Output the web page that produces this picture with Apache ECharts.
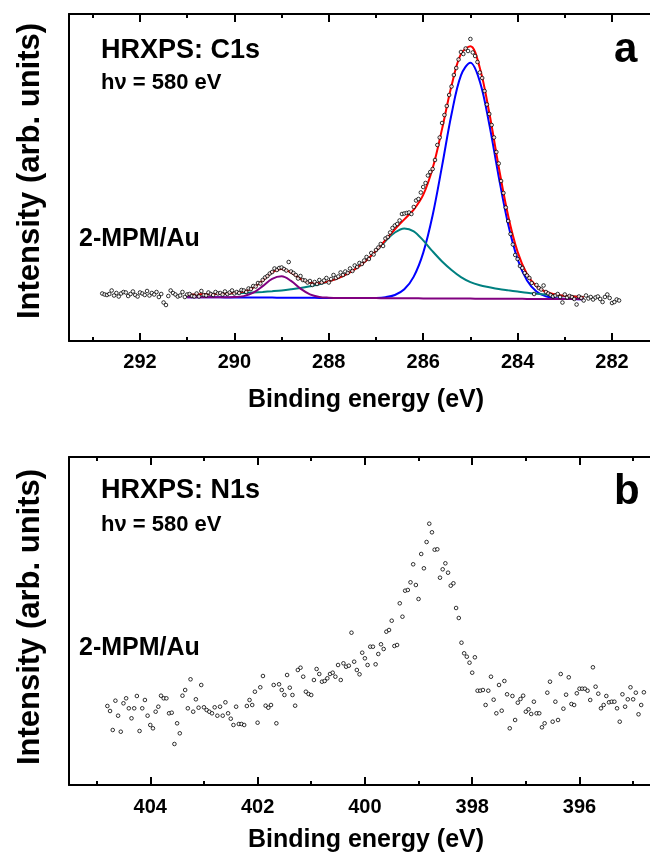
<!DOCTYPE html>
<html>
<head>
<meta charset="utf-8">
<script src="https://cdn.jsdelivr.net/npm/echarts@6/dist/echarts.min.js"></script>
<style>html,body{margin:0;padding:0;background:#fff}#chart{width:650px;height:857px}</style>
</head>
<body>
<div id="chart"></div>
<script>
// ---------- Panel a: C1s ----------
const c1sEnergy = [
292.80,292.75,292.70,292.65,292.60,292.55,292.50,292.45,292.40,292.35,
292.30,292.25,292.20,292.15,292.10,292.05,292.00,291.95,291.90,291.85,
291.80,291.75,291.70,291.65,291.60,291.55,291.50,291.45,291.40,291.35,
291.30,291.25,291.20,291.15,291.10,291.05,291.00,290.95,290.90,290.85,
290.80,290.75,290.70,290.65,290.60,290.55,290.50,290.45,290.40,290.35,
290.30,290.25,290.20,290.15,290.10,290.05,290.00,289.95,289.90,289.85,
289.80,289.75,289.70,289.65,289.60,289.55,289.50,289.45,289.40,289.35,
289.30,289.25,289.20,289.15,289.10,289.05,289.00,288.95,288.90,288.85,
288.80,288.75,288.70,288.65,288.60,288.55,288.50,288.45,288.40,288.35,
288.30,288.25,288.20,288.15,288.10,288.05,288.00,287.95,287.90,287.85,
287.80,287.75,287.70,287.65,287.60,287.55,287.50,287.45,287.40,287.35,
287.30,287.25,287.20,287.15,287.10,287.05,287.00,286.95,286.90,286.85,
286.80,286.75,286.70,286.65,286.60,286.55,286.50,286.45,286.40,286.35,
286.30,286.25,286.20,286.15,286.10,286.05,286.00,285.95,285.90,285.85,
285.80,285.75,285.70,285.65,285.60,285.55,285.50,285.45,285.40,285.35,
285.30,285.25,285.20,285.15,285.10,285.05,285.00,284.95,284.90,284.85,
284.80,284.75,284.70,284.65,284.60,284.55,284.50,284.45,284.40,284.35,
284.30,284.25,284.20,284.15,284.10,284.05,284.00,283.95,283.90,283.85,
283.80,283.75,283.70,283.65,283.60,283.55,283.50,283.45,283.40,283.35,
283.30,283.25,283.20,283.15,283.10,283.05,283.00,282.95,282.90,282.85,
282.80,282.75,282.70,282.65,282.60,282.55,282.50,282.45,282.40,282.35,
282.30,282.25,282.20,282.15,282.10,282.05,282.00,281.95,281.90,281.85
];
const c1sIntensity = [
47.5,46.5,46.0,47.0,50.5,45.5,48.0,44.5,47.5,49.0,
48.5,45.0,47.0,49.5,46.0,44.5,48.5,47.5,46.0,50.0,
45.5,48.0,46.5,49.0,44.0,47.0,38.5,36.0,45.0,50.5,
48.0,46.5,44.5,45.5,49.0,44.0,46.5,47.0,45.0,44.5,
47.5,44.5,50.0,46.0,45.5,48.5,47.0,46.0,49.0,47.5,
48.0,46.5,49.5,47.0,48.5,50.5,47.5,49.0,48.0,51.0,
50.5,49.0,52.5,52.0,55.0,54.5,58.0,57.5,61.0,63.5,
65.0,67.5,69.0,72.5,71.0,73.0,73.5,72.0,70.5,79.0,
69.5,68.0,66.0,62.5,65.0,61.0,60.5,58.5,60.0,56.0,
59.0,57.0,61.0,58.5,60.5,63.0,58.5,62.0,66.0,63.0,
64.5,68.5,66.0,69.5,68.0,72.5,70.0,75.5,74.0,78.0,
77.0,80.5,84.0,82.0,88.0,86.5,91.0,93.5,97.0,95.0,
102.5,104.0,108.5,113.0,115.5,117.0,120.5,127.0,127.5,128.0,
128.5,127.0,134.0,140.5,142.0,148.5,154.0,158.0,165.5,169.0,
172.0,181.0,196.0,203.5,218.0,226.0,235.0,246.0,254.5,266.0,
273.0,281.5,289.0,287.0,292.5,290.0,302.0,288.5,285.0,279.0,
268.5,263.0,250.0,236.5,227.0,216.0,203.5,189.0,177.5,160.0,
148.0,133.5,120.0,107.0,96.5,86.0,82.0,75.0,73.0,68.0,
65.5,63.0,58.0,47.0,56.0,53.0,51.5,55.5,49.0,47.5,
46.0,44.5,45.5,47.0,44.0,38.5,46.5,43.5,45.0,44.0,
42.0,36.5,44.5,43.0,40.5,45.5,42.5,44.0,41.5,43.5,
44.5,42.0,39.0,44.0,46.5,43.0,38.0,39.0,41.5,40.5
];
const c1sFitEnergy = [291.0,290.8,290.6,290.4,290.2,290.0,289.8,289.6,289.4,289.2,289.0,288.8,288.6,288.4,288.2,288.0,287.8,287.6,287.4,287.2,287.0,286.8,286.6,286.4,286.2,286.0,285.8,285.6,285.4,285.2,285.0,284.8,284.6,284.4,284.2,284.0,283.8,283.6,283.4,283.2,283.0,282.8,282.6];
const c1sFitMain = [43.8,43.8,43.7,43.7,43.6,43.6,43.5,43.5,43.4,43.4,43.3,43.3,43.2,43.2,43.1,43.1,43.0,43.0,43.0,43.0,43.1,43.8,46.0,51.7,64.4,88.1,125.7,175.1,226.7,265.6,278.2,259.5,216.7,164.3,116.7,81.8,60.5,49.5,44.6,42.8,42.1,41.9,41.8];
const c1sFitSecond = [46.3,46.6,46.7,47.0,47.3,47.7,48.0,48.5,49.1,49.8,50.6,51.7,53.0,54.7,56.7,59.5,62.9,67.4,73.3,80.7,89.9,99.8,108.5,112.6,109.7,100.6,89.6,79.5,71.0,63.9,58.9,55.8,53.8,52.0,50.7,49.5,48.3,47.3,46.4,45.7,45.0,44.5,44.0];
const c1sFitThird = [43.8,43.8,43.7,43.7,43.7,43.9,44.9,48.3,54.9,62.2,64.7,60.1,52.4,46.7,44.1,43.3,43.0,43.0,43.0,42.9,42.9,42.8,42.8,42.7,42.7,42.6,42.6,42.5,42.5,42.4,42.4,42.3,42.3,42.2,42.2,42.2,42.1,42.1,42.0,42.0,41.9,41.9,41.8];
const c1sFitSum = [46.3,46.6,46.7,47.0,47.4,48.0,49.4,53.3,60.6,68.6,72.0,68.5,62.2,58.2,57.7,59.7,62.9,67.4,73.3,80.8,90.1,100.8,111.7,121.6,131.4,146.1,172.7,212.1,255.2,287.1,294.7,273.0,228.2,174.1,125.2,89.1,66.7,54.7,49.0,46.5,45.2,44.5,44.0];

// ---------- Panel b: N1s ----------
const n1sEnergy = [
404.80,404.75,404.70,404.65,404.60,404.55,404.50,404.45,404.40,404.35,
404.30,404.25,404.20,404.15,404.10,404.05,404.00,403.95,403.90,403.85,
403.80,403.75,403.70,403.65,403.60,403.55,403.50,403.45,403.40,403.35,
403.30,403.25,403.20,403.15,403.10,403.05,403.00,402.95,402.90,402.85,
402.80,402.75,402.70,402.65,402.60,402.55,402.50,402.45,402.40,402.35,
402.30,402.25,402.20,402.15,402.10,402.05,402.00,401.95,401.90,401.85,
401.80,401.75,401.70,401.65,401.60,401.55,401.50,401.45,401.40,401.35,
401.30,401.25,401.20,401.15,401.10,401.05,401.00,400.95,400.90,400.85,
400.80,400.75,400.70,400.65,400.60,400.55,400.50,400.45,400.40,400.35,
400.30,400.25,400.20,400.15,400.10,400.05,400.00,399.95,399.90,399.85,
399.80,399.75,399.70,399.65,399.60,399.55,399.50,399.45,399.40,399.35,
399.30,399.25,399.20,399.15,399.10,399.05,399.00,398.95,398.90,398.85,
398.80,398.75,398.70,398.65,398.60,398.55,398.50,398.45,398.40,398.35,
398.30,398.25,398.20,398.15,398.10,398.05,398.00,397.95,397.90,397.85,
397.80,397.75,397.70,397.65,397.60,397.55,397.50,397.45,397.40,397.35,
397.30,397.25,397.20,397.15,397.10,397.05,397.00,396.95,396.90,396.85,
396.80,396.75,396.70,396.65,396.60,396.55,396.50,396.45,396.40,396.35,
396.30,396.25,396.20,396.15,396.10,396.05,396.00,395.95,395.90,395.85,
395.80,395.75,395.70,395.65,395.60,395.55,395.50,395.45,395.40,395.35,
395.30,395.25,395.20,395.15,395.10,395.05,395.00,394.95,394.90,394.85,
394.80
];
const n1sIntensity = [
79.0,74.0,55.0,84.3,69.3,53.3,81.7,86.7,76.7,66.7,
76.7,89.0,54.0,76.7,85.0,69.3,60.0,56.7,73.3,78.3,
89.3,86.7,86.7,71.7,72.3,41.0,61.7,51.7,89.3,95.0,
76.7,105.7,73.3,85.7,77.3,100.0,77.7,75.0,73.3,71.7,
77.7,69.3,78.3,69.3,82.7,71.7,66.3,60.0,78.3,61.0,
61.0,60.0,79.0,85.0,80.0,93.3,62.3,97.7,109.0,79.3,
77.3,80.0,100.0,61.7,100.7,95.0,90.0,110.0,97.3,90.0,
79.3,115.0,117.3,108.3,93.3,91.0,90.0,105.0,116.0,111.0,
103.3,104.0,106.7,111.0,112.3,108.3,120.0,105.0,121.7,118.3,
119.3,152.3,123.3,115.0,110.7,132.3,
126.7,120.0,138.3,138.3,120.7,131.0,140.7,136.0,153.3,155.0,
164.3,139.0,140.0,181.7,168.3,194.3,195.0,202.7,220.7,200.0,
186.0,231.0,216.7,243.0,261.3,252.7,235.3,235.7,207.3,215.7,
221.7,212.3,199.3,201.7,177.0,167.0,142.3,131.7,128.3,122.3,
112.3,127.7,94.3,94.3,95.0,80.0,94.3,108.3,85.3,71.7,
100.0,74.3,104.0,90.7,56.7,89.0,65.0,82.3,86.0,89.3,
73.3,75.7,71.0,83.3,71.7,71.7,57.7,61.7,92.3,103.3,
63.3,83.3,65.0,111.0,76.3,90.3,107.7,81.0,80.0,91.7,
96.3,96.3,96.3,94.3,85.0,117.7,98.3,91.3,76.7,80.0,
89.0,82.7,83.3,83.3,76.7,63.3,90.7,78.3,85.7,97.7,
85.7,92.3,70.7,80.0,92.7
];

// ---------- rendering ----------
const FONT = '"Liberation Sans", Arial, Helvetica, sans-serif';
const pairs = (xs, ys) => xs.map((x, i) => [x, ys[i]]);

function xAxisFor(grid, min, max, pos) {
  return {
    type: 'value', gridIndex: grid, position: pos, min: min, max: max,
    inverse: true, interval: 2,
    axisLine: { show: true, onZero: false, lineStyle: { color: '#000', width: 2 } },
    axisTick: { show: true, inside: true, length: 8, lineStyle: { color: '#000', width: 2 } },
    minorTick: { show: true, splitNumber: 2, length: 4, lineStyle: { color: '#000', width: 2 } },
    axisLabel: { show: pos === 'bottom', showMaxLabel: false, showMinLabel: false,
      color: '#000', fontSize: 20, fontWeight: 'bold',
      fontFamily: FONT, margin: grid === 0 ? 11 : 12,
      formatter: v => (Math.abs(v - Math.round(v)) < 1e-6 ? String(Math.round(v)) : '') },
    splitLine: { show: false }, minorSplitLine: { show: false }
  };
}
function yAxisFor(grid, max) {
  return {
    type: 'value', gridIndex: grid, min: 0, max: max,
    axisLine: { show: true, lineStyle: { color: '#000', width: 2 } },
    axisTick: { show: false }, axisLabel: { show: false }, splitLine: { show: false }
  };
}
function fitLine(xs, ys, color) {
  return { type: 'line', xAxisIndex: 0, yAxisIndex: 0, data: pairs(xs, ys),
    showSymbol: false, smooth: 0.35, lineStyle: { color: color, width: 2 }, z: 2 };
}
function scatter(xi, yi, xs, ys) {
  return { type: 'scatter', xAxisIndex: xi, yAxisIndex: yi, data: pairs(xs, ys),
    symbol: 'circle', symbolSize: 3.6,
    itemStyle: { color: '#fff', borderColor: '#000', borderWidth: 1 }, z: 3 };
}
function txt(x, y, text, size, align, rot) {
  return { type: 'text', x: x, y: y, rotation: rot || 0,
    style: { text: text, fill: '#000', font: 'bold ' + size + 'px ' + FONT,
      align: align || 'left', verticalAlign: 'middle' } };
}

const chart = echarts.init(document.getElementById('chart'), null, { renderer: 'canvas' });
chart.setOption({
  animation: false,
  backgroundColor: '#fff',
  grid: [
    { left: 69, width: 637.4, top: 14, height: 327, containLabel: false, outerBoundsMode: 'none' },
    { left: 69, width: 617.8, top: 457, height: 328, containLabel: false, outerBoundsMode: 'none' }
  ],
  xAxis: [
    xAxisFor(0, 280, 293.504, 'bottom'),
    xAxisFor(0, 280, 293.504, 'top'),
    xAxisFor(1, 394, 405.515, 'bottom'),
    xAxisFor(1, 394, 405.515, 'top')
  ],
  yAxis: [yAxisFor(0, 327), yAxisFor(1, 328)],
  series: [
    fitLine(c1sFitEnergy, c1sFitMain, '#0000ff'),
    fitLine(c1sFitEnergy, c1sFitSecond, '#008080'),
    fitLine(c1sFitEnergy, c1sFitThird, '#800080'),
    fitLine(c1sFitEnergy, c1sFitSum, '#ff0000'),
    scatter(0, 0, c1sEnergy, c1sIntensity),
    scatter(2, 1, n1sEnergy, n1sIntensity)
  ],
  graphic: [
    txt(101, 50.3, 'HRXPS: C1s', 27),
    txt(101, 82.5, 'h\u03bd = 580 eV', 22),
    txt(79, 239.5, '2-MPM/Au', 25),
    txt(614, 50, 'a', 42),
    txt(101, 490.8, 'HRXPS: N1s', 27),
    txt(101, 524.8, 'h\u03bd = 580 eV', 22),
    txt(79, 648.3, '2-MPM/Au', 25),
    txt(614, 492.7, 'b', 42),
    txt(366, 400, 'Binding energy (eV)', 25, 'center'),
    txt(366, 840, 'Binding energy (eV)', 25, 'center'),
    txt(30, 171, 'Intensity (arb. units)', 31, 'center', Math.PI / 2),
    txt(30, 617, 'Intensity (arb. units)', 31, 'center', Math.PI / 2)
  ]
});
</script>
</body>
</html>
